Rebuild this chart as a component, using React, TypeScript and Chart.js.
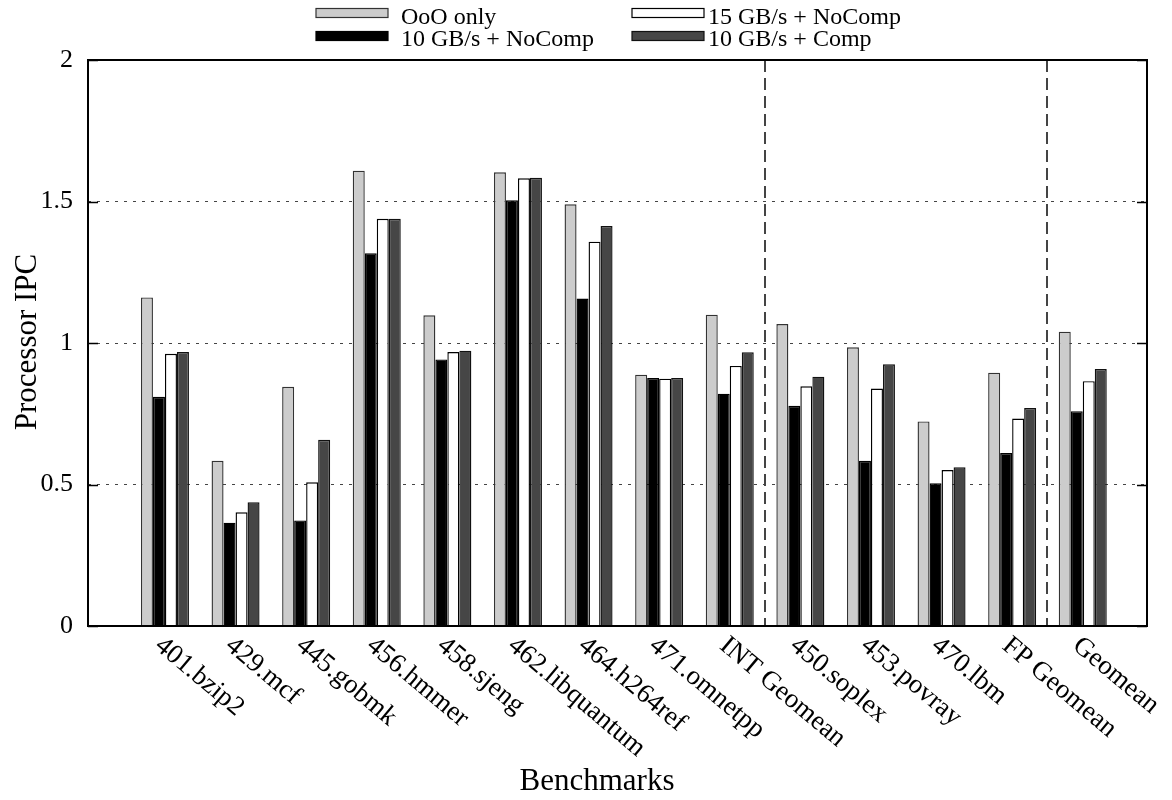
import React, { useEffect, useRef } from 'react';
import { Chart, registerables } from 'chart.js';

Chart.register(...registerables);

const FONT = '"Liberation Serif", "Times New Roman", serif';

const categories = [
  '401.bzip2', '429.mcf', '445.gobmk', '456.hmmer', '458.sjeng', '462.libquantum',
  '464.h264ref', '471.omnetpp', 'INT Geomean', '450.soplex', '453.povray', '470.lbm',
  'FP Geomean', 'Geomean',
];
const oooOnly = [1.161, 0.584, 0.845, 1.609, 1.098, 1.603, 1.490, 0.888, 1.100, 1.067, 0.985, 0.723, 0.895, 1.040];
const noComp10 = [0.810, 0.365, 0.373, 1.317, 0.942, 1.504, 1.157, 0.876, 0.821, 0.778, 0.584, 0.504, 0.611, 0.759];
const noComp15 = [0.962, 0.402, 0.508, 1.439, 0.968, 1.582, 1.358, 0.874, 0.919, 0.847, 0.839, 0.551, 0.733, 0.865];
const comp10 = [0.968, 0.437, 0.658, 1.439, 0.973, 1.584, 1.413, 0.876, 0.967, 0.881, 0.925, 0.561, 0.770, 0.908];
const yTicks = [0, 0.5, 1, 1.5, 2];
const separators = [8.5, 12.5];

const seriesNames = ['OoO only', '10 GB/s + NoComp', '15 GB/s + NoComp', '10 GB/s + Comp'];
const fills = ['#cccccc', '#000000', '#ffffff', '#464646'];
const strokes = ['#333333', '#000000', '#000000', '#111111'];

const toPoints = (arr: number[]) => arr.map((v, i) => ({ x: i, y: v }));

const customPlugin = {
  id: 'customDecor',
  afterDatasetsDraw(chart: any) {
    const { ctx, chartArea: a, scales } = chart;
    const x = scales.x;
    const y = scales.y;
    ctx.save();
    // separators
    ctx.strokeStyle = '#444';
    ctx.lineWidth = 2;
    ctx.setLineDash([12, 6]);
    separators.forEach((s) => {
      const px = Math.round(x.getPixelForValue(s));
      ctx.beginPath();
      ctx.moveTo(px, a.top);
      ctx.lineTo(px, a.bottom);
      ctx.stroke();
    });
    ctx.setLineDash([]);
    // frame
    ctx.strokeStyle = '#000';
    ctx.lineWidth = 2;
    ctx.strokeRect(a.left, a.top, a.right - a.left, a.bottom - a.top);
    // y tick marks (inward, mirrored)
    ctx.lineWidth = 1.5;
    yTicks.forEach((v) => {
      const py = Math.round(y.getPixelForValue(v)) + 0.5;
      ctx.beginPath();
      ctx.moveTo(a.left, py);
      ctx.lineTo(a.left + 10, py);
      ctx.moveTo(a.right, py);
      ctx.lineTo(a.right - 10, py);
      ctx.stroke();
    });
    // x labels
    ctx.fillStyle = '#000';
    ctx.font = `27px ${FONT}`;
    ctx.textAlign = 'left';
    ctx.textBaseline = 'top';
    categories.forEach((c, i) => {
      const px = x.getPixelForValue(i);
      ctx.save();
      ctx.translate(px + 2, a.bottom + 6);
      ctx.rotate((40 * Math.PI) / 180);
      ctx.fillText(c, 0, 0);
      ctx.restore();
    });
    // axis titles
    ctx.font = `31px ${FONT}`;
    ctx.textAlign = 'center';
    ctx.textBaseline = 'alphabetic';
    ctx.fillText('Benchmarks', 597, 790);
    ctx.save();
    ctx.translate(36, 342);
    ctx.rotate(-Math.PI / 2);
    ctx.fillText('Processor IPC', 0, 0);
    ctx.restore();
    // legend
    const legendPos = [
      { bx: 316, tx: 401, row: 0 },
      { bx: 316, tx: 401, row: 1 },
      { bx: 632, tx: 708, row: 0 },
      { bx: 632, tx: 708, row: 1 },
    ];
    ctx.font = `24px ${FONT}`;
    ctx.textAlign = 'left';
    legendPos.forEach((p, i) => {
      const baseline = p.row === 0 ? 24 : 45.5;
      const boxTop = p.row === 0 ? 8.5 : 31.5;
      ctx.fillStyle = fills[i];
      ctx.fillRect(p.bx, boxTop, 72, 9);
      ctx.strokeStyle = strokes[i];
      ctx.lineWidth = 1.2;
      ctx.strokeRect(p.bx, boxTop, 72, 9);
      ctx.fillStyle = '#000';
      ctx.fillText(seriesNames[i], p.tx, baseline);
    });
    ctx.restore();
  },
};

export default function App() {
  const canvasRef = useRef<HTMLCanvasElement | null>(null);

  useEffect(() => {
    const canvas = canvasRef.current;
    if (!canvas) return;
    const datasets = [oooOnly, noComp10, noComp15, comp10].map((arr, i) => ({
      label: seriesNames[i],
      data: toPoints(arr),
      backgroundColor: fills[i],
      borderColor: strokes[i],
      borderWidth: 1.4,
      categoryPercentage: 0.68,
      barPercentage: 1.0,
    }));
    const chart = new Chart(canvas, {
      type: 'bar',
      data: { datasets },
      options: {
        responsive: false,
        animation: false,
        devicePixelRatio: 1,
        layout: { padding: { top: 60, right: 25, bottom: 174, left: 0 } },
        plugins: { legend: { display: false }, tooltip: { enabled: false } },
        scales: {
          x: {
            type: 'linear',
            display: false,
            min: -1.09,
            max: 13.91,
            offset: false,
          },
          y: {
            type: 'linear',
            min: 0,
            max: 2,
            afterFit: (scale: any) => {
              scale.width = 88;
            },
            afterBuildTicks: (scale: any) => {
              scale.ticks = yTicks.map((v) => ({ value: v }));
            },
            ticks: {
              color: '#000',
              font: { family: FONT, size: 26 },
              padding: 15,
              callback: (v: any) => String(v),
            },
            grid: {
              drawTicks: false,
              lineWidth: 1,
              color: (c: any) =>
                c.tick && (c.tick.value === 0 || c.tick.value === 2) ? 'rgba(0,0,0,0)' : '#444',
            },
            border: { display: false, dash: [3, 6] },
          },
        },
      },
      plugins: [customPlugin],
    });
    return () => chart.destroy();
  }, []);

  return (
    <div style={{ position: 'fixed', left: 0, top: 0, width: 1172, height: 800, background: '#fff' }}>
      <canvas ref={canvasRef} width={1172} height={800} style={{ width: 1172, height: 800, display: 'block' }} />
    </div>
  );
}
